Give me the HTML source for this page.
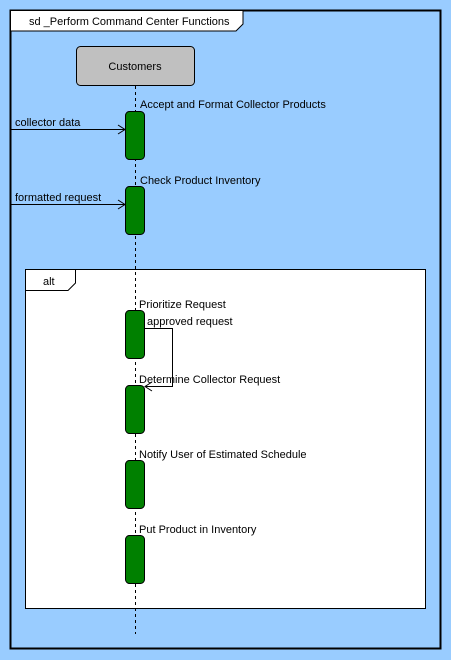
<!DOCTYPE html>
<html><head><style>
body{margin:0;width:451px;height:660px;background:#99ccff;overflow:hidden}
svg{display:block}
svg text{font-family:"Liberation Sans",sans-serif;font-size:11px;fill:#000}
</style></head><body>
<svg width="451" height="660" xmlns="http://www.w3.org/2000/svg">
<rect x="0" y="0" width="451" height="660" fill="#99ccff"/>
<rect x="10.5" y="10.5" width="430" height="638" fill="none" stroke="#000" stroke-width="2"/>
<path d="M10.5 10.5 H243 V24 L236 31 H10.5 Z" fill="#fff" stroke="#000" stroke-width="1"/>
<text x="29" y="25">sd _Perform Command Center Functions</text>
<rect x="76.5" y="46.5" width="118" height="39" rx="4" fill="#c0c0c0" stroke="#000"/>
<text x="135" y="70" text-anchor="middle">Customers</text>
<rect x="25.5" y="269.5" width="400" height="339" fill="#fff" stroke="#000"/>
<path d="M25.5 290.5 H68 L75.5 283 V269.5" fill="none" stroke="#000"/>
<text x="43" y="285">alt</text>
<line x1="135.5" y1="86" x2="135.5" y2="634" stroke="#000" stroke-dasharray="3,3"/>
<g fill="#008000" stroke="#000">
<rect x="125.5" y="111.5" width="19" height="48" rx="4"/>
<rect x="125.5" y="186.5" width="19" height="48" rx="4"/>
<rect x="125.5" y="310.5" width="19" height="48" rx="4"/>
<rect x="125.5" y="385.5" width="19" height="48" rx="4"/>
<rect x="125.5" y="460.5" width="19" height="48" rx="4"/>
<rect x="125.5" y="535.5" width="19" height="48" rx="4"/>
</g>
<g fill="none" stroke="#000">
<line x1="11" y1="129.5" x2="125" y2="129.5"/><path d="M118 125 L125 129.5 L118 134"/>
<line x1="11" y1="204.5" x2="125" y2="204.5"/><path d="M118 200 L125 204.5 L118 209"/>
<path d="M145 328.5 H172.5 V386.5 H145"/><path d="M152 382 L145 386.5 L152 391"/>
</g>
<text x="140" y="108">Accept and Format Collector Products</text>
<text x="15" y="126">collector data</text>
<text x="140" y="184">Check Product Inventory</text>
<text x="15" y="201">formatted request</text>
<text x="139" y="308">Prioritize Request</text>
<text x="147" y="325">approved request</text>
<text x="139" y="383">Determine Collector Request</text>
<text x="139" y="458">Notify User of Estimated Schedule</text>
<text x="139" y="533">Put Product in Inventory</text>
</svg>
</body></html>
